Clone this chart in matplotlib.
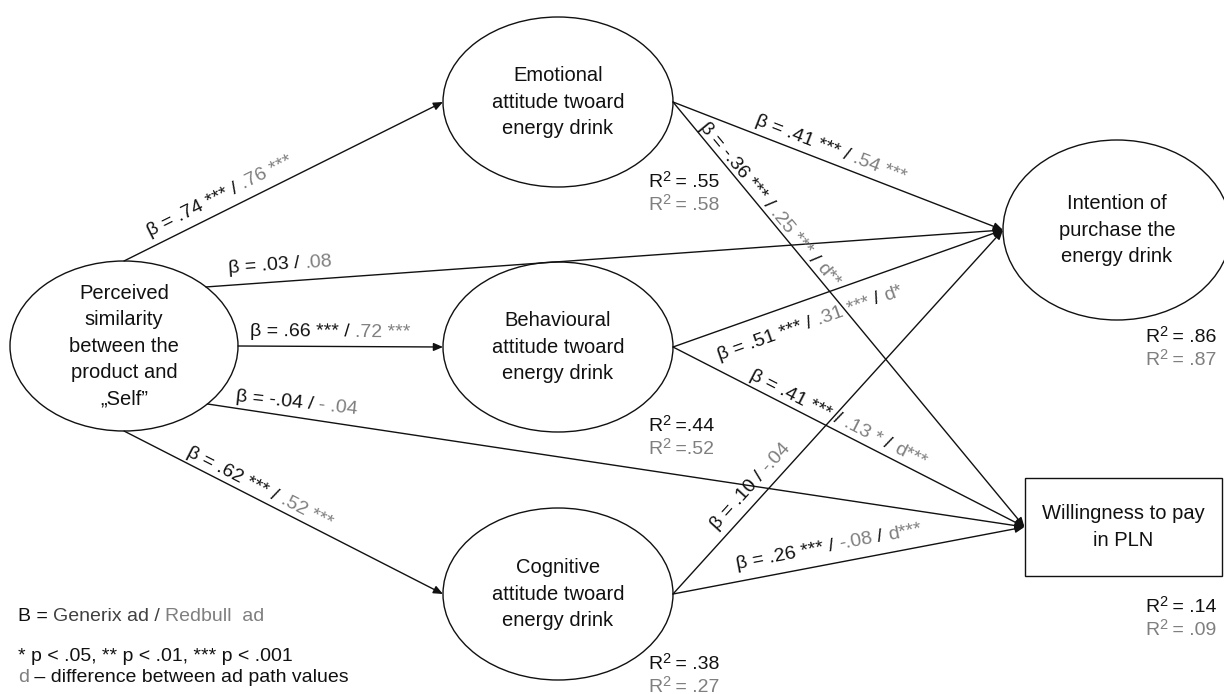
import numpy as np
import matplotlib
matplotlib.use("Agg")
import matplotlib.pyplot as plt
from matplotlib.patches import Ellipse, Rectangle

plt.rcParams['font.family'] = ['Liberation Sans', 'DejaVu Sans']

BLACK = "#111111"
GRAY = "#7f7f7f"
DARK = "#404040"

# --- model content ---
node_ids = ["perc", "emo", "beh", "cog", "int", "will"]
node_text = ["Perceived\nsimilarity\nbetween the\nproduct and\n\u201eSelf\u201d",
             "Emotional\nattitude twoard\nenergy drink",
             "Behavioural\nattitude twoard\nenergy drink",
             "Cognitive\nattitude twoard\nenergy drink",
             "Intention of\npurchase the\nenergy drink",
             "Willingness to pay\nin PLN"]

r2_nodes = ["emo", "beh", "cog", "int", "will"]
r2_generix = [" .55", ".44", " .38", " .86", " .14"]
r2_redbull = [" .58", ".52", " .27", " .87", " .09"]

path_from = ["perc", "perc", "perc", "perc", "perc", "emo", "emo", "beh", "beh", "cog", "cog"]
path_to = ["emo", "int", "beh", "will", "cog", "int", "will", "int", "will", "int", "will"]
beta_generix = [".74", ".03", ".66", "-.04", ".62", ".41", "-.36", ".51", ".41", ".10", ".26"]
stars_generix = ["***", "", "***", "", "***", "***", "***", "***", "***", "", "***"]
beta_redbull = [".76", ".08", ".72", "- .04", ".52", ".54", ".25", ".31", ".13", "-.04", "-.08"]
stars_redbull = ["***", "", "***", "", "***", "***", "***", "***", "*", "", ""]
path_diff = ["", "", "", "", "", "", "**", "*", "***", "", "***"]

# --- layout (pixels) ---
node_center = {"perc": (124, 346), "emo": (558, 102), "beh": (558, 347),
               "cog": (558, 594), "int": (1117, 230), "will": (1123, 527)}
node_size = {"perc": (228, 170), "emo": (230, 170), "beh": (230, 170),
             "cog": (230, 172), "int": (228, 180), "will": (197, 98)}
src_port = [90, 44, 0, -43, -90, 0, 0, 0, 0, 0, 0]
label_xy = [(150, 236), (229, 273), (250, 336), (235, 401), (186, 455),
            (754, 124), (699, 127), (720, 360), (749, 378), (717, 530), (737, 569)]
label_rot = [None, None, None, -6, None, None, None, None, None, None, None]
r2_xy = {"emo": (648, 187), "beh": (648, 431), "cog": (648, 669),
         "int": (1145, 342), "will": (1145, 612)}

fig = plt.figure(figsize=(12.24, 6.94), dpi=100)
ax = fig.add_axes([0, 0, 1, 1])
ax.set_xlim(0, 1224)
ax.set_ylim(694, 0)
ax.axis("off")
renderer = fig.canvas.get_renderer()


def text_width(s, size):
    t1 = ax.text(0, 0, "|" + s + "|", fontsize=size)
    t2 = ax.text(0, 0, "||", fontsize=size)
    w = t1.get_window_extent(renderer).width - t2.get_window_extent(renderer).width
    t1.remove()
    t2.remove()
    return w


def rich_text(x, y, angle, parts, size=14):
    # parts: (text, colour) or (text, colour, size, rise)
    a = np.radians(angle)
    ux, uy = np.cos(a), -np.sin(a)
    px, py = -np.sin(a), -np.cos(a)
    pos = 0
    for part in parts:
        s, color = part[0], part[1]
        sz = part[2] if len(part) > 2 else size
        rise = part[3] if len(part) > 3 else 0
        ax.text(x + ux * pos + px * rise, y + uy * pos + py * rise, s,
                color=color, fontsize=sz, rotation=angle,
                rotation_mode="anchor", ha="left", va="baseline")
        pos += text_width(s, sz)


def port(node, ang):
    cx, cy = node_center[node]
    w, h = node_size[node]
    if node == "will":
        return (cx - w / 2, cy)
    a = np.radians(ang)
    return (cx + w / 2 * np.cos(a), cy - h / 2 * np.sin(a))


# nodes
for nid, txt in zip(node_ids, node_text):
    cx, cy = node_center[nid]
    w, h = node_size[nid]
    if nid == "will":
        ax.add_patch(Rectangle((cx - w / 2, cy - h / 2), w, h, fill=False,
                               lw=1.0, ec=BLACK))
    else:
        ax.add_patch(Ellipse((cx, cy), w, h, fill=False, lw=1.0, ec=BLACK))
    ax.text(cx, cy, txt, ha="center", va="center", fontsize=14.5,
            color=BLACK, linespacing=1.5)

# paths
for i in range(len(path_from)):
    p0 = port(path_from[i], src_port[i])
    p1 = port(path_to[i], 180)
    ax.annotate("", xy=p1, xytext=p0,
                arrowprops=dict(arrowstyle="-|>,head_length=0.7,head_width=0.3",
                                lw=1.0, color=BLACK, shrinkA=0, shrinkB=0,
                                mutation_scale=8))
    ang = label_rot[i]
    if ang is None:
        ang = np.degrees(np.arctan2(-(p1[1] - p0[1]), p1[0] - p0[0]))
    first = "\u03b2 = " + beta_generix[i]
    if stars_generix[i]:
        first += " " + stars_generix[i]
    parts = [(first + " / ", BLACK)]
    second = beta_redbull[i]
    if stars_redbull[i]:
        second += " " + stars_redbull[i]
    parts.append((second, GRAY))
    if path_diff[i]:
        parts.append((" / ", BLACK))
        parts.append(("d" + path_diff[i], GRAY))
    rich_text(label_xy[i][0], label_xy[i][1], ang, parts)

# R squared
for nid, g, r in zip(r2_nodes, r2_generix, r2_redbull):
    x, y = r2_xy[nid]
    rich_text(x, y, 0, [("R", BLACK), ("2", BLACK, 10.5, 6), (" =" + g, BLACK)])
    rich_text(x, y + 23, 0, [("R", GRAY), ("2", GRAY, 10.5, 6), (" =" + r, GRAY)])

# legend notes
rich_text(18, 621, 0, [("B = ", BLACK), ("Generix ad / ", DARK), ("Redbull  ad", GRAY)], size=14)
rich_text(18, 661, 0, [("* p < .05, ** p < .01, *** p < .001", BLACK)], size=14)
rich_text(18, 682, 0, [("d", GRAY), (" \u2013 difference between ad path values", BLACK)], size=14)

fig.savefig("out.png", dpi=100)
